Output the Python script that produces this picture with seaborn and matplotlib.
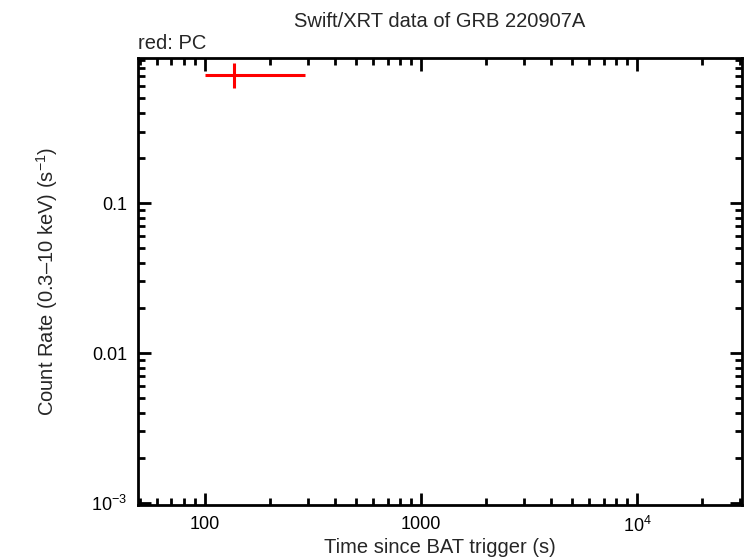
import numpy as np
import pandas as pd
import seaborn as sns
import matplotlib
matplotlib.use('Agg')
import matplotlib.pyplot as plt
from matplotlib.ticker import FixedLocator, FixedFormatter, LogLocator, NullFormatter

# Data (PC mode)
t_mid = [137.0]
t_lo = [100.0]
t_hi = [292.0]
rate = [0.713]
rate_lo = [0.582]
rate_hi = [0.854]

df = pd.DataFrame({'t': t_mid, 'rate': rate})

sns.set_style('ticks')
plt.rcParams['font.family'] = ['Liberation Sans', 'DejaVu Sans']
plt.rcParams['mathtext.fontset'] = 'custom'
plt.rcParams['mathtext.rm'] = 'Liberation Sans'

fig = plt.figure(figsize=(7.46, 5.58), dpi=100)
ax = fig.add_axes([0.185, 0.095, 0.8096, 0.801])

xerr = [np.array(t_mid) - np.array(t_lo), np.array(t_hi) - np.array(t_mid)]
yerr = [np.array(rate) - np.array(rate_lo), np.array(rate_hi) - np.array(rate)]
ax.errorbar(df['t'], df['rate'], xerr=xerr, yerr=yerr, fmt='none',
            ecolor='#ff0000', elinewidth=2.2, capsize=0)

ax.set_xscale('log')
ax.set_yscale('log')
ax.set_xlim(49, 30600)
ax.set_ylim(0.00097, 0.927)

ax.xaxis.set_major_locator(FixedLocator([100, 1000, 10000]))
ax.xaxis.set_major_formatter(FixedFormatter(['100', '1000', '10$^4$']))
ax.xaxis.set_minor_locator(LogLocator(base=10, subs=np.arange(2, 10)))
ax.xaxis.set_minor_formatter(NullFormatter())
ax.yaxis.set_major_locator(FixedLocator([0.001, 0.01, 0.1]))
ax.yaxis.set_major_formatter(FixedFormatter(['10$^{-3}$', '0.01', '0.1']))
ax.yaxis.set_minor_locator(LogLocator(base=10, subs=np.arange(2, 10)))
ax.yaxis.set_minor_formatter(NullFormatter())

ax.tick_params(which='both', direction='in', top=True, right=True, colors='black',
               labelsize=13, width=2)
ax.tick_params(which='major', length=9, pad=8)
ax.tick_params(which='minor', length=5)
for s in ax.spines.values():
    s.set_linewidth(2)
    s.set_color('black')

ax.set_xlabel('Time since BAT trigger (s)', fontsize=14.5, labelpad=1)
ax.set_ylabel('Count Rate (0.3\u201310 keV) (s$^{-1}$)', fontsize=14.5, labelpad=22)
ax.set_title('Swift/XRT data of GRB 220907A', fontsize=14.5, pad=22)
ax.text(0.0, 1.012, 'red: PC', transform=ax.transAxes, fontsize=14.5,
        ha='left', va='bottom')

fig.savefig('out.png', dpi=100)
